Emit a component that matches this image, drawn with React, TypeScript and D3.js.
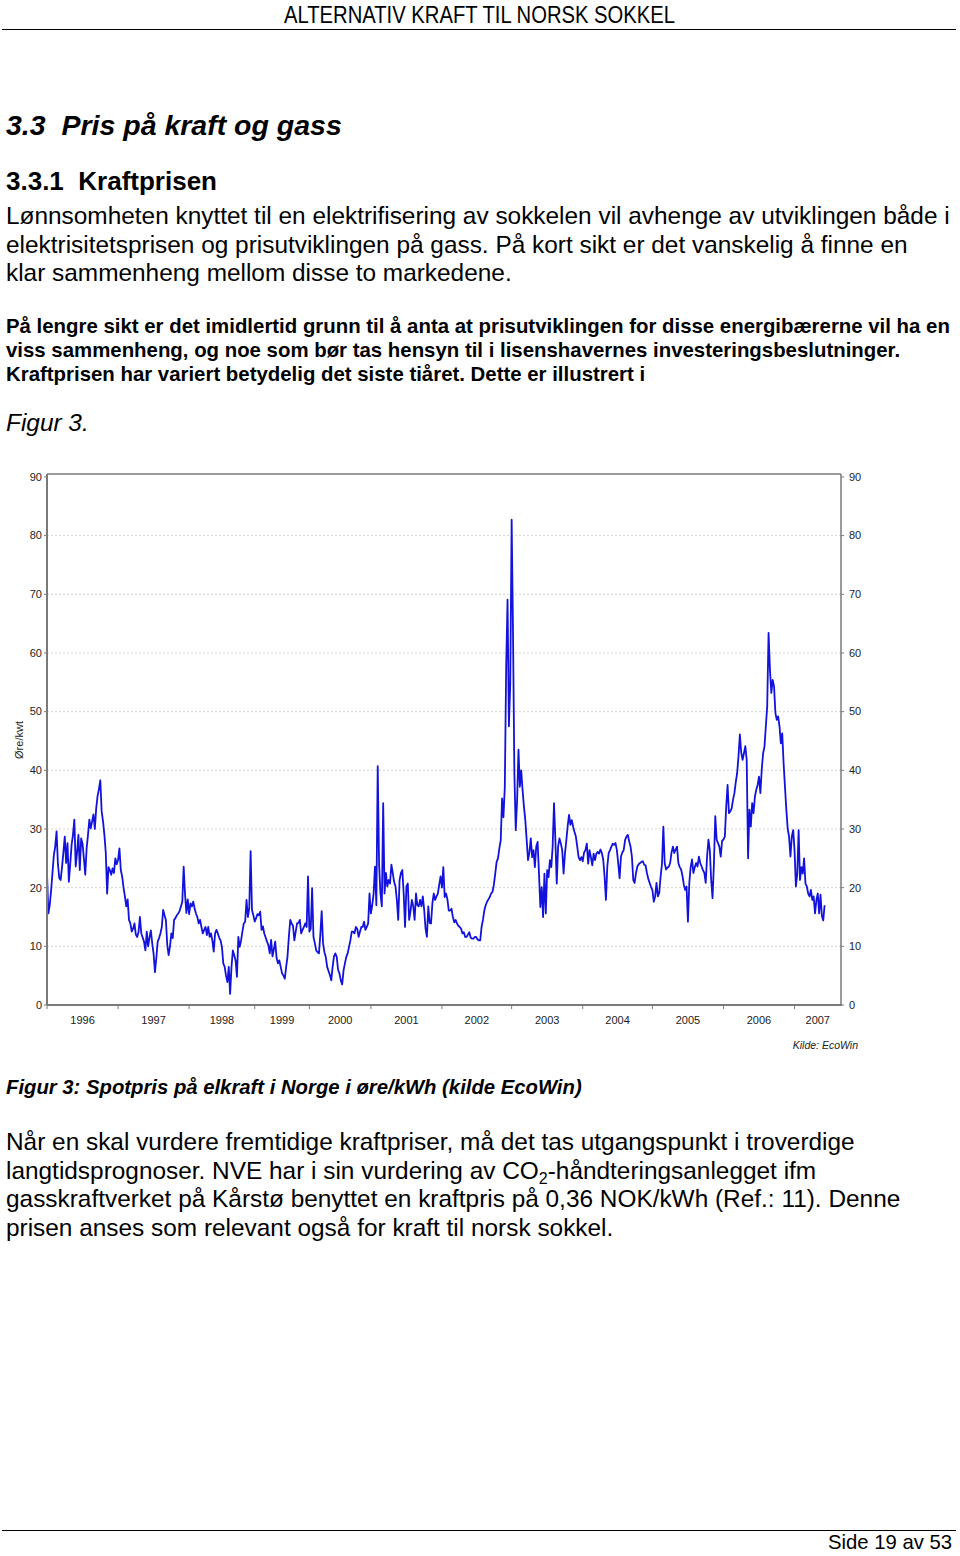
import React from 'react';
import * as d3 from 'd3';

// weekly spot prices (øre/kWh), one array per year
const prices1996 = [22.4, 15.6, 17, 19.5, 22.5, 25.5, 27, 29.6, 24, 21.6, 21.3, 23.5, 26, 28.7, 24.2, 27.6, 21, 24, 27.3, 29, 31.6, 23.6, 26, 29, 23, 28.4, 27.5, 25, 22.2, 26.7, 29, 31.6, 30.1, 31.3, 32.5, 30, 33.5, 35.6, 36.8, 38.3, 33, 31.3, 29, 26, 19, 23.5, 23, 22.2, 23.3, 22.5, 25, 24];
const prices1997 = [24.7, 26.7, 23, 21.9, 20, 18.5, 16.8, 18, 14.5, 13.9, 12.5, 13, 13.9, 12, 11.6, 12.5, 15, 12.2, 11.5, 10.8, 9.3, 12.5, 10, 11.5, 12.7, 10.5, 8.7, 5.6, 8, 10.8, 11.4, 12.2, 13.3, 16.2, 15.3, 14.5, 10.2, 8.5, 10, 12.2, 11.4, 14.5, 14.8, 15.3, 15.6, 16, 16.8, 17.6, 23.6, 18.9, 15.7, 18];
const prices1998 = [15.5, 17.3, 16.8, 17.6, 16.5, 15.6, 15, 13.9, 14.5, 13.3, 12.2, 12.8, 13.3, 11.9, 13.3, 11.6, 12.2, 11, 9.1, 12.2, 12.8, 12.2, 11.5, 11, 9.9, 7.1, 6.5, 5, 3.9, 6.5, 1.9, 6.5, 9.3, 8.5, 7.6, 4.8, 11.6, 9.9, 11, 12.5, 13.9, 14.2, 17.9, 15, 16.5, 26.2, 16.2, 15.3];
const prices1999 = [14.2, 14.8, 15.5, 15.3, 15.9, 12.8, 13.4, 12.2, 11.5, 10.8, 10.2, 8.8, 11.1, 8.3, 9.5, 10.8, 8, 7.1, 7.6, 6.5, 5.4, 5, 4.5, 6.5, 8.3, 11.7, 14.5, 13.9, 13.5, 11, 12.5, 13.9, 14, 14.5, 12.2, 12.8, 13.3, 13.9, 13.3, 21.9];
const prices2000 = [12.5, 13, 19.9, 11.6, 10.5, 9.3, 9, 8.8, 12, 16, 10.5, 9, 8.2, 6.5, 5.8, 5.1, 4.2, 6.5, 8.3, 8.8, 8.2, 6, 5.4, 4.2, 3.5, 5.9, 7.1, 8.2, 8.8, 9.9, 11, 12.5, 12.5, 12.2, 13.3, 13, 11.6, 12.5, 13.3, 13.3, 14.2, 12.8, 13.3, 13.9, 19];
const prices2001 = [15.6, 17, 19, 23.6, 17, 40.7, 24, 19, 16.8, 34.4, 19, 22.5, 20.2, 21.3, 20.7, 23.9, 22.5, 21, 20.2, 17.9, 14.5, 21.3, 22.5, 23, 19, 13.3, 20.2, 20.7, 14.5, 16, 17.9, 16.8, 14.5, 19, 17, 16.8, 17.9, 16.8, 18.5, 16.2, 13, 11.6, 16.8, 14, 13.9, 17.3, 19, 17.9, 18.5, 19, 20.5, 21.9];
const prices2002 = [20, 23.5, 18.4, 19, 18, 16.1, 16.1, 16.4, 15, 14.1, 14.5, 13.9, 13.5, 13.3, 13, 12.2, 12.4, 11.6, 11.6, 12, 12.4, 11.5, 11.3, 11.3, 11.6, 11.6, 11.2, 11, 11, 13.3, 14.5, 16.1, 17, 17.6, 18, 18.4, 19, 19.3, 20.5, 22.4, 24.4, 25, 26.7, 28, 35.2, 32, 37.2, 57.7, 69.1, 47.5, 55];
const prices2003 = [82.7, 63.4, 39.5, 29.8, 34.9, 43.5, 37.2, 40, 36.6, 33.8, 31.5, 28.1, 24.7, 26, 28.4, 25.2, 26.4, 23.5, 27, 27.8, 22.4, 16.7, 20.1, 15, 22.4, 15.6, 23, 21.8, 24.7, 23.5, 27, 34.4, 28.1, 20.7, 27, 28.4, 27.5, 26.4, 22.4, 25.8, 28, 30.5, 32.4, 30.7, 31.5, 30.4, 29.5, 28.7, 27, 25.2, 24.7, 25.2];
const prices2004 = [24.5, 26, 26.4, 27.5, 24.1, 26.4, 25.2, 23.8, 25.8, 24.7, 25.8, 26.1, 25.8, 26.5, 25.9, 24.8, 21.9, 17.9, 23.6, 25.9, 26.4, 27, 27.5, 27.3, 27.6, 26.4, 24.1, 21.6, 25.3, 26, 26.4, 28.1, 28.7, 29, 27.9, 27, 25.3, 21.3, 20.8, 22.5, 23.6, 24, 24.2, 24.4, 24.5, 23.9, 23.8, 22.5, 21.5, 20.8, 20.1];
const prices2005 = [19.6, 17.6, 18.5, 20.8, 18.5, 19.1, 21.9, 24, 30.4, 24.2, 23.1, 23.4, 23.6, 24.2, 26, 27, 25.9, 26.5, 27, 24.2, 23.5, 23.1, 22, 20.5, 19.6, 20.2, 14.2, 20.8, 23.5, 24.8, 22.5, 23.5, 24.2, 23.6, 25.3, 24.2, 23.6, 23, 22.5, 20.8, 25.3, 28.2, 26.4, 21.3, 18.2, 24, 32.2, 28.2, 27.6, 27, 25.3, 28];
const prices2006 = [28.2, 28.7, 33.8, 37.5, 32.7, 33, 33.5, 35, 36.1, 38, 39.5, 42.4, 46.1, 43, 41.8, 42.9, 44.1, 41.8, 25, 33.3, 30.4, 34.4, 32.7, 35.5, 36.7, 37.5, 38.9, 36.1, 40.1, 42.9, 44, 47.5, 50.9, 63.4, 57.2, 53.2, 55.4, 54.3, 49.8, 48.6, 49.2, 47.5, 44.6, 46.3, 41.2, 37.2, 33.3, 30, 28.7, 25.3, 28.7, 29.8];
const prices2007 = [26.4, 20.2, 22.4, 29.8, 21.3, 23.5, 22.4, 25, 20.7, 20.2, 19, 18.5, 19.6, 17.9, 18.5, 15.6, 17.9, 19, 15.6, 18.8, 15.2, 14.4, 17];

const years = [1996, 1997, 1998, 1999, 2000, 2001, 2002, 2003, 2004, 2005, 2006, 2007];
const yearSeries = [prices1996, prices1997, prices1998, prices1999, prices2000, prices2001, prices2002, prices2003, prices2004, prices2005, prices2006, prices2007];
const yTicks = [0, 10, 20, 30, 40, 50, 60, 70, 80, 90];
const weeksAfterLastObs = 11; // axis runs on past the last observation

const para1 = [
  'Lønnsomheten knyttet til en elektrifisering av sokkelen vil avhenge av utviklingen både i',
  'elektrisitetsprisen og prisutviklingen på gass. På kort sikt er det vanskelig å finne en',
  'klar sammenheng mellom disse to markedene.',
];
const para2 = [
  'På lengre sikt er det imidlertid grunn til å anta at prisutviklingen for disse energibærerne vil ha en',
  'viss sammenheng, og noe som bør tas hensyn til i lisenshavernes investeringsbeslutninger.',
  'Kraftprisen har variert betydelig det siste tiåret. Dette er illustrert i',
];
const para3rest = [
  'gasskraftverket på Kårstø benyttet en kraftpris på 0,36 NOK/kWh (Ref.: 11). Denne',
  'prisen anses som relevant også for kraft til norsk sokkel.',
];

const FONT = '"Liberation Sans", Arial, sans-serif';
const NARROW = '"Liberation Sans Narrow", "Liberation Sans", Arial, sans-serif';
const BODY = 24.4;

export default function App() {
  // flatten to one weekly series, remembering where each year starts
  const starts: number[] = [];
  const points: { i: number; v: number }[] = [];
  yearSeries.forEach((arr) => {
    starts.push(points.length);
    arr.forEach((v) => points.push({ i: points.length, v }));
  });
  const endIndex = points.length + weeksAfterLastObs;

  const left = 47, right = 841, top = 474, bottom = 1005;
  const x = d3.scaleLinear().domain([0, endIndex]).range([left, right]);
  const y = d3.scaleLinear().domain([0, 90.5]).range([bottom, top]);

  const line = d3.line<{ i: number; v: number }>()
    .x((d) => x(d.i))
    .y((d) => y(d.v));

  const tickIdx = [...starts, endIndex];
  const axisColor = '#7a7a7a';

  return (
    <svg width={960} height={1556} style={{ position: 'absolute', left: 0, top: 0, background: '#fff' }}>
      {/* page header */}
      <text x={479.5} y={23} textAnchor="middle" fontFamily={NARROW} fontSize={24} textLength={391} lengthAdjust="spacingAndGlyphs">ALTERNATIV KRAFT TIL NORSK SOKKEL</text>
      <line x1={2} x2={956} y1={29.5} y2={29.5} stroke="#000" strokeWidth={1} />

      <text x={6} y={135} fontFamily={FONT} fontSize={28.5} fontWeight="bold" fontStyle="italic" xmlSpace="preserve">3.3  Pris på kraft og gass</text>
      <text x={6} y={190} fontFamily={FONT} fontSize={26} fontWeight="bold" xmlSpace="preserve">3.3.1  Kraftprisen</text>

      {para1.map((t, k) => (
        <text key={'p1' + k} x={6} y={224 + k * 28.5} fontFamily={FONT} fontSize={BODY}>{t}</text>
      ))}
      {para2.map((t, k) => (
        <text key={'p2' + k} x={6} y={333 + k * 24} fontFamily={FONT} fontSize={20.4} fontWeight="bold">{t}</text>
      ))}
      <text x={6} y={431} fontFamily={FONT} fontSize={BODY} fontStyle="italic">Figur 3.</text>

      {/* chart */}
      <g fontFamily={FONT} fontSize={11} fill="#222">
        {yTicks.filter((t) => t > 0 && t < 90).map((t) => (
          <line key={'g' + t} x1={left} x2={right} y1={y(t)} y2={y(t)} stroke="#c8c8c8" strokeWidth={0.8} strokeDasharray="2,2" />
        ))}
        <path d={line(points) || ''} fill="none" stroke="#1212dc" strokeWidth={1.8} strokeLinejoin="round" />

        <line x1={left} x2={right} y1={top} y2={top} stroke={axisColor} strokeWidth={1.5} />
        <line x1={left} x2={left} y1={top} y2={bottom} stroke={axisColor} strokeWidth={2} />
        <line x1={right} x2={right} y1={top} y2={bottom} stroke={axisColor} strokeWidth={1.5} />
        <line x1={left} x2={right + 1} y1={bottom} y2={bottom} stroke={axisColor} strokeWidth={2} />

        {yTicks.map((t) => (
          <g key={'yt' + t}>
            <line x1={left - 3} x2={left} y1={y(t)} y2={y(t)} stroke={axisColor} />
            <text x={42} y={y(t)} dy="0.35em" textAnchor="end">{t}</text>
            <line x1={right} x2={right + 3} y1={y(t)} y2={y(t)} stroke={axisColor} />
            <text x={849} y={y(t)} dy="0.35em">{t}</text>
          </g>
        ))}

        {tickIdx.slice(0, -1).map((idx, k) => (
          <g key={'xt' + k}>
            <line x1={x(idx)} x2={x(idx)} y1={bottom} y2={bottom + 4} stroke={axisColor} />
            <text x={(x(idx) + x(tickIdx[k + 1])) / 2} y={1024} textAnchor="middle">{years[k]}</text>
          </g>
        ))}

        <text transform="translate(23,740) rotate(-90)" textAnchor="middle">Øre/kwt</text>
        <text x={858} y={1049} textAnchor="end" fontStyle="italic" fontSize={10.5}>Kilde: EcoWin</text>
      </g>

      <text x={6} y={1094} fontFamily={FONT} fontSize={20.3} fontWeight="bold" fontStyle="italic">Figur 3: Spotpris på elkraft i Norge i øre/kWh (kilde EcoWin)</text>

      <text x={6} y={1150} fontFamily={FONT} fontSize={BODY}>Når en skal vurdere fremtidige kraftpriser, må det tas utgangspunkt i troverdige</text>
      <text x={6} y={1178.5} fontFamily={FONT} fontSize={BODY}>
        langtidsprognoser. NVE har i sin vurdering av CO
        <tspan fontSize={16} dy={5}>2</tspan>
        <tspan dy={-5}>-håndteringsanlegget ifm</tspan>
      </text>
      {para3rest.map((t, k) => (
        <text key={'p3' + k} x={6} y={1207 + k * 28.5} fontFamily={FONT} fontSize={BODY}>{t}</text>
      ))}

      <line x1={2} x2={956} y1={1530.5} y2={1530.5} stroke="#000" strokeWidth={1} />
      <text x={952} y={1549} textAnchor="end" fontFamily={NARROW} fontSize={21} textLength={124} lengthAdjust="spacingAndGlyphs">Side 19 av 53</text>
    </svg>
  );
}
